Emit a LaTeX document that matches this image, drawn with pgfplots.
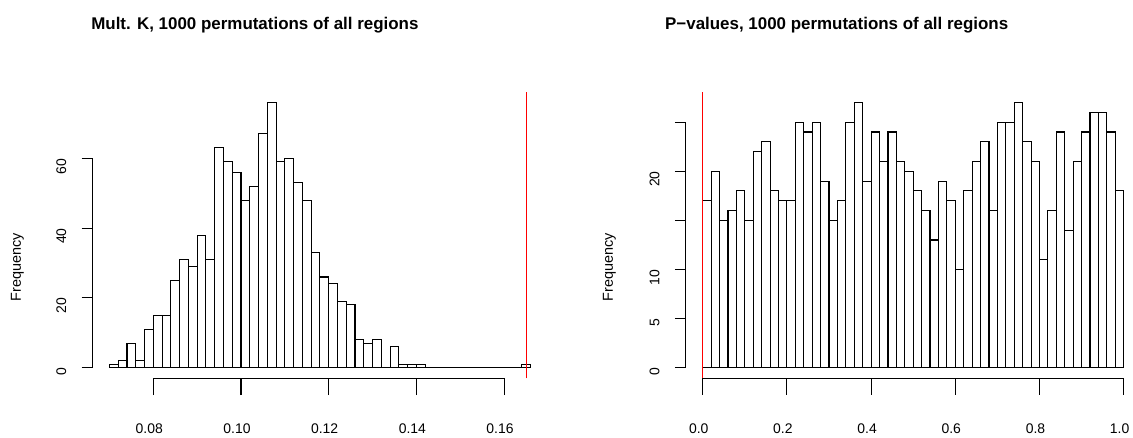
\documentclass[border=0pt]{standalone}
\usepackage{pgfplots}
\pgfplotsset{compat=1.18}
\usepackage{fontspec}
\setmainfont{Liberation Sans}

% R-like histogram frame: axis box hidden, spines drawn only over the tick range
\pgfplotsset{
  rhist/.style={
    scale only axis, width=454.6bp, height=286.4bp,
    anchor=south west, clip=false,
    axis line style={draw=none},
    tick align=outside, xtick pos=bottom, ytick pos=left,
    xtick style={black, line width=1.1bp, /pgfplots/major tick length=16.7bp},
    ytick style={black, line width=1.1bp, /pgfplots/major tick length=11bp},
    ticklabel style={font=\fontsize{14}{16}\selectfont, inner sep=0pt},
    xticklabel style={anchor=north, xshift=-4bp},
    xticklabel shift=41bp,
    yticklabel style={rotate=90, anchor=east},
    yticklabel shift=27bp,
    ylabel={Frequency},
    every axis y label/.style={rotate=90, anchor=center, font=\fontsize{14.5}{16}\selectfont},
    every axis title/.style={anchor=base, font=\fontsize{17}{20}\selectfont\bfseries},
  },
  bars/.style={ybar interval, fill=white, draw=black, line width=1.1bp},
}

\begin{document}
\begin{tikzpicture}
\path[use as bounding box] (0,0) rectangle (1133bp,438bp);

% left: Mult. K
\begin{axis}[rhist, at={(92.6bp,59.7bp)},
  xmin=0.06616, xmax=0.16984, ymin=-3.04, ymax=79.04,
  xtick={0.08,0.10,0.12,0.14,0.16}, xticklabels={0.08,0.10,0.12,0.14,0.16},
  ytick={0,20,40,60}, yticklabels={0,20,40,60},
  title={Mult. K, 1000 permutations of all regions},
  title style={at={(axis description cs:0.357,1.2186)}},
  ylabel style={at={(axis description cs:-0.1652,0.3869)}}]
  \addplot[bars] coordinates {
    (0.070,1) (0.072,2) (0.074,7) (0.076,2) (0.078,11) (0.080,15) (0.082,15)
    (0.084,25) (0.086,31) (0.088,29) (0.090,38) (0.092,31) (0.094,63) (0.096,59)
    (0.098,56) (0.100,48) (0.102,52) (0.104,67) (0.106,76) (0.108,59) (0.110,60)
    (0.112,53) (0.114,48) (0.116,33) (0.118,26) (0.120,24) (0.122,19) (0.124,18)
    (0.126,8) (0.128,7) (0.130,8) (0.132,0) (0.134,6) (0.136,1) (0.138,1)
    (0.140,1) (0.142,0) (0.144,0) (0.146,0) (0.148,0) (0.150,0) (0.152,0)
    (0.154,0) (0.156,0) (0.158,0) (0.160,0) (0.162,0) (0.164,1) (0.166,1)};
  \addplot[red, line width=1.2bp, mark=none] coordinates {(0.1652,-3.04) (0.1652,79.04)};
  \draw[line width=1.1bp] (axis cs:0.08,-3.04) -- (axis cs:0.16,-3.04);
  \draw[line width=1.1bp] (axis cs:0.06616,0) -- (axis cs:0.06616,60);
\end{axis}

% right: P-values
\begin{axis}[rhist, at={(685.9bp,59.7bp)},
  xmin=-0.04, xmax=1.04, ymin=-1.08, ymax=28.08,
  xtick={0,0.2,0.4,0.6,0.8,1}, xticklabels={0.0,0.2,0.4,0.6,0.8,1.0},
  ytick={0,5,10,15,20,25}, yticklabels={0,5,10,,20,},
  title={P\textminus values, 1000 permutations of all regions},
  title style={at={(axis description cs:0.3317,1.2186)}},
  ylabel style={at={(axis description cs:-0.1681,0.3869)}}]
  \addplot[bars] coordinates {
    (0.00,17) (0.02,20) (0.04,15) (0.06,16) (0.08,18) (0.10,15) (0.12,22) (0.14,23)
    (0.16,18) (0.18,17) (0.20,17) (0.22,25) (0.24,24) (0.26,25) (0.28,19) (0.30,15)
    (0.32,17) (0.34,25) (0.36,27) (0.38,19) (0.40,24) (0.42,21) (0.44,24) (0.46,21)
    (0.48,20) (0.50,18) (0.52,16) (0.54,13) (0.56,19) (0.58,17) (0.60,10) (0.62,18)
    (0.64,21) (0.66,23) (0.68,16) (0.70,25) (0.72,25) (0.74,27) (0.76,23) (0.78,21)
    (0.80,11) (0.82,16) (0.84,24) (0.86,14) (0.88,21) (0.90,24) (0.92,26) (0.94,26)
    (0.96,24) (0.98,18) (1.00,18)};
  \addplot[red, line width=1.2bp, mark=none] coordinates {(0.0,-1.08) (0.0,28.08)};
  \draw[line width=1.1bp] (axis cs:0,-1.08) -- (axis cs:1,-1.08);
  \draw[line width=1.1bp] (axis cs:-0.04,0) -- (axis cs:-0.04,25);
\end{axis}
\end{tikzpicture}
\end{document}
